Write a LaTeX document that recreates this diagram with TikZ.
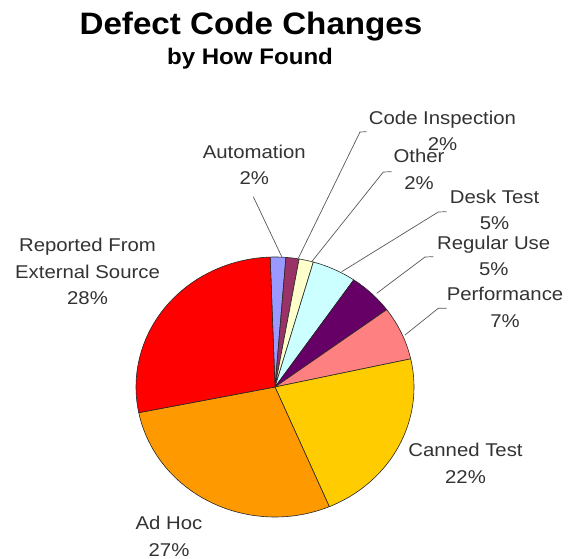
\documentclass[tikz,border=0pt]{standalone}
\usepackage{fontspec}
\setmainfont{Liberation Sans}
\newfontfamily\lblfont[FakeStretch=1.1]{Liberation Sans}
\newfontfamily\ttlfont[FakeStretch=1.07]{Liberation Sans}
\definecolor{cAuto}{HTML}{9999FF}
\definecolor{cCode}{HTML}{993366}
\definecolor{cOther}{HTML}{FFFFCC}
\definecolor{cDesk}{HTML}{CCFFFF}
\definecolor{cReg}{HTML}{660066}
\definecolor{cPerf}{HTML}{FF8080}
\definecolor{cCanned}{HTML}{FFCC00}
\definecolor{cAdHoc}{HTML}{FF9900}
\definecolor{cRep}{HTML}{FF0000}
\definecolor{lblgray}{HTML}{333333}
\begin{document}
\begin{tikzpicture}[x=1pt,y=1pt,
  slice/.style={draw=black!85,line width=0.6pt,line join=round},
  pie/.style={x radius=139,y radius=130},
  leader/.style={draw=black!65,line width=0.7pt},
  lbl/.style={font=\lblfont\fontsize{18.5}{26.5}\selectfont,text=lblgray,align=center,inner sep=0pt},
  ttl/.style={font=\ttlfont\bfseries\fontsize{31}{36}\selectfont,inner sep=0pt,anchor=base},
  sub/.style={font=\ttlfont\bfseries\fontsize{22.5}{26}\selectfont,inner sep=0pt,anchor=base}]
\fill[white] (0,0) rectangle (578,559);
\useasboundingbox (0,0) rectangle (578,559);
% title
\node[ttl] (title) at (251,524) {Defect Code Changes};
\node[sub] (subtitle) at (250,494) {by How Found};
% pie
\coordinate (O) at (275,172);
\begin{scope}[shift={(O)}]
\filldraw[slice,fill=cAuto] (0,0) -- (92:139 and 130) arc[pie,start angle=92,end angle=85.5] -- cycle;
\filldraw[slice,fill=cCode] (0,0) -- (85.5:139 and 130) arc[pie,start angle=85.5,end angle=80] -- cycle;
\filldraw[slice,fill=cOther] (0,0) -- (80:139 and 130) arc[pie,start angle=80,end angle=74] -- cycle;
\filldraw[slice,fill=cDesk] (0,0) -- (74:139 and 130) arc[pie,start angle=74,end angle=55.5] -- cycle;
\filldraw[slice,fill=cReg] (0,0) -- (55.5:139 and 130) arc[pie,start angle=55.5,end angle=36.5] -- cycle;
\filldraw[slice,fill=cPerf] (0,0) -- (36.5:139 and 130) arc[pie,start angle=36.5,end angle=12.5] -- cycle;
\filldraw[slice,fill=cCanned] (0,0) -- (12.5:139 and 130) arc[pie,start angle=12.5,end angle=-67] -- cycle;
\filldraw[slice,fill=cAdHoc] (0,0) -- (-67:139 and 130) arc[pie,start angle=-67,end angle=-168.6] -- cycle;
\filldraw[slice,fill=cRep] (0,0) -- (191.4:139 and 130) arc[pie,start angle=191.4,end angle=92] -- cycle;
\end{scope}
% labels
\node[lbl] (auto) at (254.3,394.2) {Automation\\2\%};
\node[lbl] (code) at (442.5,427.9) {Code Inspection\\2\%};
\node[lbl] (other) at (419,389.5) {Other\\2\%};
\node[lbl] (desk) at (494.5,349) {Desk Test\\5\%};
\node[lbl] (reg) at (493.7,303.2) {Regular Use\\5\%};
\node[lbl] (perf) at (505,251.5) {Performance\\7\%};
\node[lbl] (canned) at (465.5,95.7) {Canned Test\\22\%};
\node[lbl] (adhoc) at (169,22.4) {Ad Hoc\\27\%};
\node[lbl] (rep) at (87.5,287.5) {Reported From\\External Source\\28\%};
% leader line anchors
\coordinate (autoT) at (253.3,362.3);
\coordinate (autoE) at (281.7,302.3);
\coordinate (codeT) at (366.7,427.3);
\coordinate (codeK) at (360,427);
\coordinate (codeE) at (298.3,300.7);
\coordinate (otherT) at (391.7,387.3);
\coordinate (otherK) at (383.3,387);
\coordinate (otherE) at (311.7,297.3);
\coordinate (deskT) at (446.7,347.3);
\coordinate (deskK) at (438.3,347);
\coordinate (deskE) at (341.7,287.3);
\coordinate (regT) at (433.3,302.3);
\coordinate (regK) at (425,302);
\coordinate (regE) at (376.7,265.7);
\coordinate (perfT) at (446.7,250.7);
\coordinate (perfK) at (438.3,250.7);
\coordinate (perfE) at (405,224);
\draw[leader] (autoT) -- (autoE);
\draw[leader] (codeT) -- (codeK) -- (codeE);
\draw[leader] (otherT) -- (otherK) -- (otherE);
\draw[leader] (deskT) -- (deskK) -- (deskE);
\draw[leader] (regT) -- (regK) -- (regE);
\draw[leader] (perfT) -- (perfK) -- (perfE);
\end{tikzpicture}
\end{document}
